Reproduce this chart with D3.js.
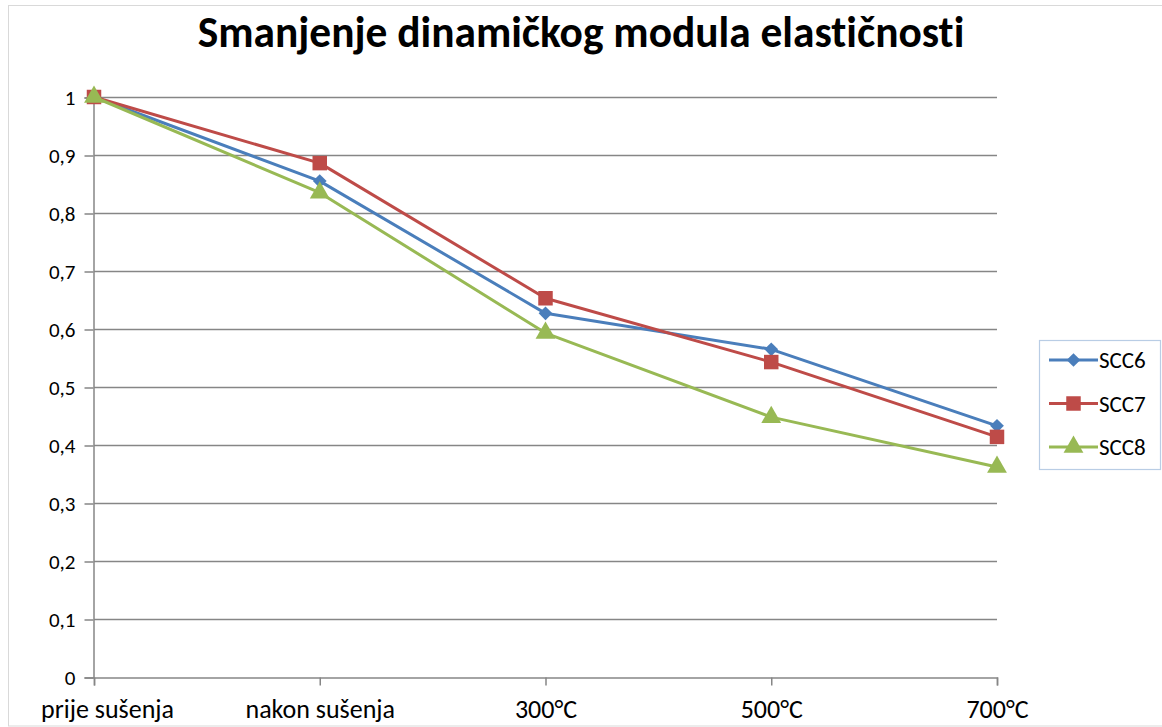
<!DOCTYPE html>
<html>
<head>
<meta charset="utf-8">
<script src="https://cdn.jsdelivr.net/npm/d3@7"></script>
<style>
  html, body { margin: 0; padding: 0; background: #fff; }
  svg { display: block; }
  text { font-family: Carlito, Calibri, Lato, "Open Sans", sans-serif; font-variant-ligatures: none; }
</style>
</head>
<body>
<svg id="chart" width="1162" height="727"></svg>
<script>
// Relative dynamic modulus of elasticity per drying/heating stage
const categories = ["prije sušenja", "nakon sušenja", "300°C", "500°C", "700°C"];
const scc6 = [1.000, 0.855, 0.627, 0.565, 0.433];
const scc7 = [1.000, 0.886, 0.653, 0.543, 0.414];
const scc8 = [1.000, 0.835, 0.593, 0.448, 0.362];
const yTicks = [0, 0.1, 0.2, 0.3, 0.4, 0.5, 0.6, 0.7, 0.8, 0.9, 1];
const yTickLabels = ["0", "0,1", "0,2", "0,3", "0,4", "0,5", "0,6", "0,7", "0,8", "0,9", "1"];
const title = "Smanjenje dinamičkog modula elastičnosti";

const series = [
  { name: "SCC6", values: scc6, color: "#4A7EBB", marker: "diamond" },
  { name: "SCC7", values: scc7, color: "#BE4B48", marker: "square" },
  { name: "SCC8", values: scc8, color: "#98B954", marker: "triangle" }
];

const FONT = "Carlito, Calibri, Lato, 'Open Sans', sans-serif";
const svg = d3.select("#chart");

// outer chart frame
svg.append("rect")
  .attr("x", 8.5).attr("y", 5.5)
  .attr("width", 1170).attr("height", 720.5)
  .attr("fill", "none").attr("stroke", "#d9d9d9").attr("stroke-width", 1);

const plot = { left: 94, right: 997, top: 97, bottom: 677 };

const x = d3.scalePoint().domain(categories).range([plot.left, plot.right]);
const y = d3.scaleLinear().domain([0, 1]).range([plot.bottom, plot.top]);

// horizontal gridlines
svg.append("g")
  .selectAll("line")
  .data(yTicks.filter(d => d > 0))
  .join("line")
  .attr("x1", plot.left).attr("x2", plot.right)
  .attr("y1", d => y(d) + 0.5).attr("y2", d => y(d) + 0.5)
  .attr("stroke", "#868686").attr("stroke-width", 1.3);

// y axis
const yAxis = svg.append("g")
  .attr("transform", `translate(${plot.left - 0.5},0.5)`)
  .call(d3.axisLeft(y).tickValues(yTicks)
    .tickFormat((d, i) => yTickLabels[i]).tickSize(9).tickPadding(9));
yAxis.select(".domain").attr("stroke", "#868686").attr("stroke-width", 1.5);
yAxis.selectAll(".tick line").attr("stroke", "#868686").attr("stroke-width", 1.5);
yAxis.selectAll(".tick text")
  .attr("fill", "#000").attr("font-size", 21)
  .style("font-family", FONT);

// x axis
const xAxis = svg.append("g")
  .attr("transform", `translate(0,${plot.bottom + 0.5})`)
  .call(d3.axisBottom(x).tickSize(8).tickPadding(14));
xAxis.select(".domain").attr("stroke", "#868686").attr("stroke-width", 1.5);
xAxis.selectAll(".tick line").attr("stroke", "#868686").attr("stroke-width", 1.5);
xAxis.selectAll(".tick text")
  .attr("fill", "#000").attr("font-size", 26)
  .style("font-family", FONT);
// keep the first category label inside the frame
xAxis.selectAll(".tick text").each(function () {
  const bb = this.getBBox();
  const tick = this.parentNode.transform.baseVal.consolidate().matrix.e;
  const leftEdge = tick + bb.x;
  if (leftEdge < 41) d3.select(this).attr("x", 41 - leftEdge);
});

// series lines
const line = d3.line()
  .x((d, i) => x(categories[i]))
  .y(d => y(d));

const markerPath = {
  diamond: d3.symbol().type(d3.symbolDiamond2).size(120),
  square: d3.symbol().type(d3.symbolSquare).size(210),
  triangle: d3.symbol().type(d3.symbolTriangle).size(170)
};

series.forEach(s => {
  svg.append("path")
    .datum(s.values)
    .attr("d", line)
    .attr("fill", "none")
    .attr("stroke", s.color)
    .attr("stroke-width", 3)
    .attr("stroke-linejoin", "round");
});
series.forEach(s => {
  svg.append("g")
    .selectAll("path")
    .data(s.values)
    .join("path")
    .attr("transform", (d, i) => `translate(${x(categories[i])},${y(d)})`)
    .attr("d", markerPath[s.marker]())
    .attr("fill", s.color);
});

// legend
const legend = svg.append("g");
legend.append("rect")
  .attr("x", 1039.5).attr("y", 340.5).attr("width", 121).attr("height", 129)
  .attr("fill", "#fff").attr("stroke", "#b9cde5").attr("stroke-width", 1.2);
const legendY = d3.scalePoint().domain(series.map(s => s.name)).range([360, 447]);
series.forEach(s => {
  const ly = legendY(s.name);
  legend.append("line")
    .attr("x1", 1049).attr("x2", 1098).attr("y1", ly).attr("y2", ly)
    .attr("stroke", s.color).attr("stroke-width", 3);
  legend.append("path")
    .attr("transform", `translate(1073.5,${ly})`)
    .attr("d", markerPath[s.marker]())
    .attr("fill", s.color);
  legend.append("text")
    .attr("x", 1099).attr("y", ly + 8)
    .attr("font-size", 23).attr("fill", "#000")
    .text(s.name);
});

// title
const t = svg.append("text")
  .attr("x", 581).attr("y", 47)
  .attr("text-anchor", "middle")
  .attr("font-weight", "bold")
  .attr("font-size", 34)
  .attr("fill", "#000")
  .text(title);
// fit the title to its intended span
const w = t.node().getComputedTextLength();
t.attr("font-size", 34 * 767 / w);
</script>
</body>
</html>
